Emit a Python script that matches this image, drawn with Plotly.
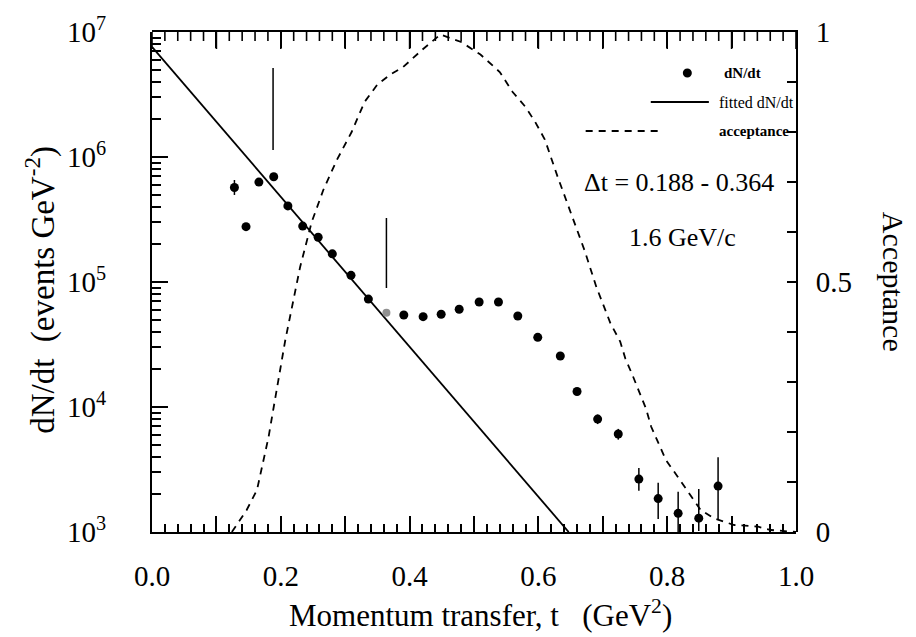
import plotly.graph_objects as go

# ---------------- data ----------------
t_pts = [0.128, 0.146, 0.166, 0.189, 0.211, 0.234, 0.258, 0.280, 0.309, 0.336,
         0.391, 0.421, 0.449, 0.477, 0.508, 0.538, 0.568, 0.599, 0.634, 0.660,
         0.692, 0.724, 0.756, 0.786, 0.817, 0.849, 0.879]
n_pts = [5.7e5, 2.77e5, 6.3e5, 6.95e5, 4.06e5, 2.8e5, 2.28e5, 1.68e5, 1.13e5, 7.3e4,
         5.45e4, 5.28e4, 5.52e4, 6.05e4, 6.92e4, 6.92e4, 5.35e4, 3.61e4, 2.56e4, 1.33e4,
         8.0e3, 6.08e3, 2.65e3, 1.85e3, 1.41e3, 1.29e3, 2.33e3]
err_up = [0.85e5, 0, 0, 0, 0, 0, 0, 0, 0, 0,
          0, 0, 0, 0, 0, 0, 0, 0, 0, 0,
          0.7e3, 0.6e3, 0.6e3, 0.63e3, 0.69e3, 0.92e3, 1.63e3]
err_dn = [0.73e5, 0, 0, 0, 0, 0, 0, 0, 0, 0,
          0, 0, 0, 0, 0, 0, 0, 0, 0, 0,
          0.7e3, 0.6e3, 0.51e3, 0.58e3, 0.41e3, 0.27e3, 1.08e3]

# point at the fit window edge (grey in the original)
t_edge = [0.364]
n_edge = [5.68e4]

# fitted dN/dt (exponential, straight on log scale) end points
t_fit = [0.0, 0.647]
n_fit = [7.6e6, 1.0e3]

# fit window markers
t_win = [0.188, 0.364]
win_lo = [1.14e6, 8.95e4]
win_hi = [5.15e6, 3.25e5]

# acceptance curve
t_acc = [0.124, 0.147, 0.163, 0.173, 0.181, 0.189, 0.207, 0.230, 0.248, 0.266,
         0.287, 0.310, 0.330, 0.350, 0.370, 0.390, 0.420, 0.448, 0.480, 0.510,
         0.540, 0.560, 0.580, 0.595, 0.610, 0.630, 0.650, 0.672, 0.690, 0.712,
         0.727, 0.735, 0.746, 0.756, 0.767, 0.775, 0.798, 0.816, 0.834, 0.852,
         0.873, 0.904, 0.940, 0.961, 1.0]
acc = [0.0, 0.044, 0.084, 0.144, 0.19, 0.25, 0.384, 0.53, 0.62, 0.684,
       0.744, 0.80, 0.86, 0.895, 0.915, 0.93, 0.965, 0.995, 0.98, 0.955,
       0.92, 0.88, 0.85, 0.82, 0.785, 0.71, 0.64, 0.562, 0.49, 0.417,
       0.381, 0.347, 0.314, 0.281, 0.247, 0.211, 0.144, 0.111, 0.077, 0.044,
       0.027, 0.014, 0.011, 0.004, 0.0]

# axis ticks
x_ticks = [0.0, 0.1, 0.2, 0.3, 0.4, 0.5, 0.6, 0.7, 0.8, 0.9, 1.0]
x_tick_lbl = ["0.0", "", "0.2", "", "0.4", "", "0.6", "", "0.8", "", "1.0"]
x_minor_ticks = [round(0.02 * i, 2) for i in range(51) if i % 5 != 0]
y_decades = [1e3, 1e4, 1e5, 1e6, 1e7]
y_lbl = ["10<sup>3</sup>", "10<sup>4</sup>", "10<sup>5</sup>", "10<sup>6</sup>", "10<sup>7</sup>"]
y_minor_ticks = [m * 10 ** e for e in range(3, 7) for m in range(2, 10)]
acc_ticks = [0, 0.5, 1]
acc_lbl = ["0", "0.5", "1"]

FONT = "Liberation Serif, Times New Roman, serif"
PLOT_H = 500.0  # plot-area height in px, used to convert tick lengths to axis units

fig = go.Figure()

# fit line
fig.add_trace(go.Scatter(x=t_fit, y=n_fit, mode="lines",
                         line=dict(color="black", width=1.8), showlegend=False))
# window markers
for tw, lo, hi in zip(t_win, win_lo, win_hi):
    fig.add_trace(go.Scatter(x=[tw, tw], y=[lo, hi], mode="lines",
                             line=dict(color="black", width=1.5), showlegend=False))
# data points
fig.add_trace(go.Scatter(x=t_pts, y=n_pts, mode="markers",
                         marker=dict(color="black", size=9),
                         error_y=dict(type="data", symmetric=False, array=err_up,
                                      arrayminus=err_dn, color="black", thickness=1.5, width=0),
                         showlegend=False))
fig.add_trace(go.Scatter(x=t_edge, y=n_edge, mode="markers",
                         marker=dict(color="#909090", size=8), showlegend=False))
# acceptance (second subplot sharing the same area, transparent background)
fig.add_trace(go.Scatter(x=t_acc, y=acc, xaxis="x2", yaxis="y2", mode="lines",
                         line=dict(color="black", width=1.8, dash="7px,6px"),
                         showlegend=False, hoverinfo="skip"))

# top-axis ticks (mirror of bottom axis ticks), drawn in acceptance-axis units
tx, ty = [], []
for v in x_ticks:
    tx += [v, v, None]
    ty += [1.0, 1.0 - 17 / PLOT_H, None]
for v in x_minor_ticks:
    tx += [v, v, None]
    ty += [1.0, 1.0 - 9 / PLOT_H, None]
fig.add_trace(go.Scatter(x=tx, y=ty, xaxis="x2", yaxis="y2", mode="lines",
                         line=dict(color="black", width=1.6), cliponaxis=False,
                         showlegend=False, hoverinfo="skip"))

# ---------- manual legend (paper coordinates) ----------
def px(xp):
    return (xp - 152) / 643.0
def py(yp):
    return (532 - yp) / 500.0

shapes = [
    dict(type="circle", xref="paper", yref="paper",
         x0=px(682), x1=px(691), y0=py(77.5), y1=py(68.5),
         fillcolor="black", line=dict(color="black", width=0)),
    dict(type="line", xref="paper", yref="paper", x0=px(650), x1=px(708),
         y0=py(102), y1=py(102), line=dict(color="black", width=1.8)),
    dict(type="line", xref="paper", yref="paper", x0=px(585), x1=px(662),
         y0=py(131), y1=py(131), line=dict(color="black", width=1.8, dash="7px,6px")),
]

annotations = [
    dict(text="<b>dN/dt</b>", x=px(721), y=py(73), xref="paper", yref="paper",
         xanchor="left", yanchor="middle", showarrow=False, font=dict(family=FONT, size=15)),
    dict(text="fitted dN/dt", x=px(716), y=py(102), xref="paper", yref="paper",
         xanchor="left", yanchor="middle", showarrow=False, font=dict(family=FONT, size=16)),
    dict(text="<b>acceptance</b>", x=px(716), y=py(131), xref="paper", yref="paper",
         xanchor="left", yanchor="middle", showarrow=False, font=dict(family=FONT, size=15)),
    dict(text="Δt = 0.188 - 0.364", x=px(678), y=py(182), xref="paper", yref="paper",
         xanchor="center", yanchor="middle", showarrow=False, font=dict(family=FONT, size=26)),
    dict(text="1.6 GeV/c", x=px(682), y=py(237), xref="paper", yref="paper",
         xanchor="center", yanchor="middle", showarrow=False, font=dict(family=FONT, size=26)),
    # axis titles
    dict(text="dN/dt  (events GeV<sup>-2</sup>)", x=px(40), y=py(290), xref="paper", yref="paper",
         xanchor="center", yanchor="middle", textangle=-90, showarrow=False,
         font=dict(family=FONT, size=33)),
    dict(text="Acceptance", x=px(893), y=py(282), xref="paper", yref="paper",
         xanchor="center", yanchor="middle", textangle=90, showarrow=False,
         font=dict(family=FONT, size=30)),
    dict(text="Momentum transfer, t   (GeV<sup>2</sup>)", x=px(480), y=py(613), xref="paper", yref="paper",
         xanchor="center", yanchor="middle", showarrow=False,
         font=dict(family=FONT, size=31)),
]

tick_style = dict(ticks="inside", tickwidth=1.5, tickcolor="black", showgrid=False,
                  zeroline=False, showline=True, linecolor="black", linewidth=2)

fig.update_layout(
    width=916, height=637,
    margin=dict(l=152, r=120, t=32, b=105),
    paper_bgcolor="white", plot_bgcolor="rgba(0,0,0,0)",
    font=dict(family=FONT, color="black", size=28),
    showlegend=False,
    shapes=shapes, annotations=annotations,
    xaxis=dict(domain=[0, 1], anchor="y", side="bottom", range=[0, 1.0],
               tickmode="array", tickvals=x_ticks, ticktext=x_tick_lbl,
               ticklen=16, ticklabelstandoff=17,
               minor=dict(tickmode="array", tickvals=x_minor_ticks, ticks="inside",
                          ticklen=8, tickwidth=1.5, tickcolor="black", showgrid=False),
               tickfont=dict(family=FONT, size=29), **tick_style),
    yaxis=dict(domain=[0, 1], anchor="x", side="left", type="log", range=[3, 7],
               tickmode="array", tickvals=y_decades, ticktext=y_lbl,
               ticklen=16, ticklabelstandoff=38,
               minor=dict(tickmode="array", tickvals=y_minor_ticks,
                          ticks="inside", ticklen=9, tickwidth=1.5, tickcolor="black",
                          showgrid=False),
               tickfont=dict(family=FONT, size=29), **tick_style),
    xaxis2=dict(domain=[0, 1], anchor="y2", side="top", range=[0, 1.0],
                tickmode="array", tickvals=x_ticks, showticklabels=False, ticklen=16,
                **tick_style),
    yaxis2=dict(domain=[0, 1], anchor="x2", side="right", range=[0, 1],
                tickmode="array", tickvals=acc_ticks, ticktext=acc_lbl,
                ticklen=9, ticklabelstandoff=12,
                minor=dict(dtick=0.1, ticks="inside", ticklen=9, tickwidth=1.5,
                           tickcolor="black", showgrid=False),
                tickfont=dict(family=FONT, size=29), **tick_style),
)

fig.write_html("out.html")
